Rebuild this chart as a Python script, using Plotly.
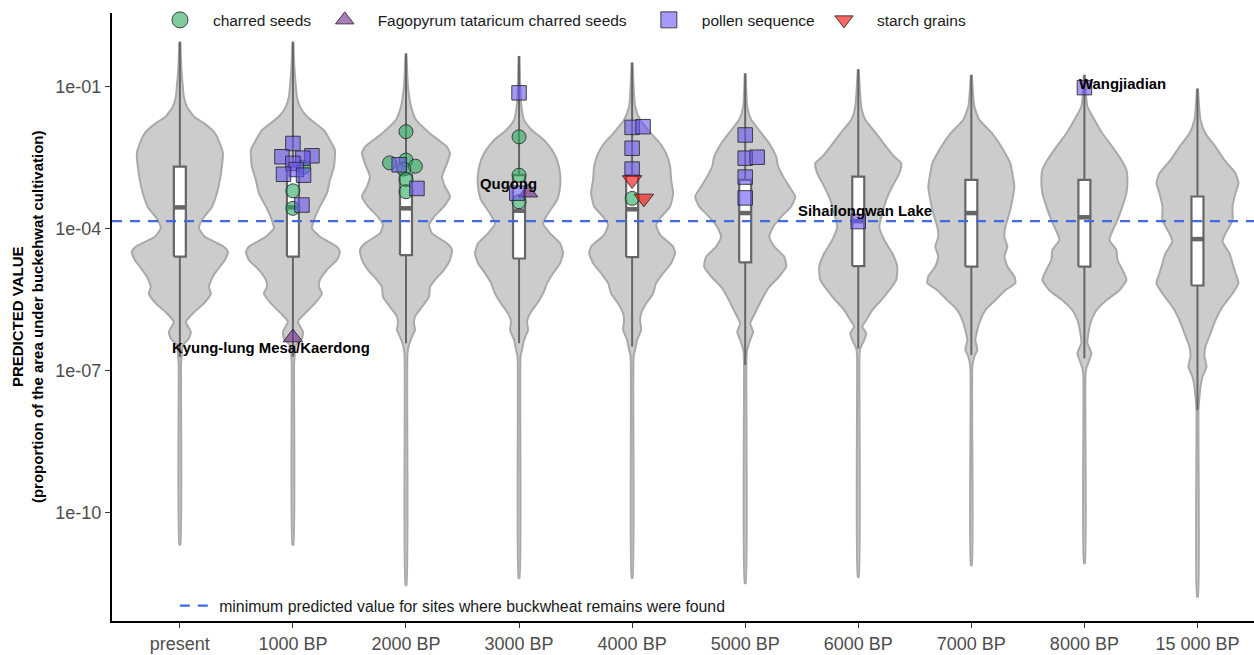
import plotly.graph_objects as go

# ---------------- data ----------------
CATEGORIES = ["present", "1000 BP", "2000 BP", "3000 BP", "4000 BP",
              "5000 BP", "6000 BP", "7000 BP", "8000 BP", "15 000 BP"]

# violin outlines: log10(predicted value) and relative half-width (density)
VIOLIN_LOG = {
    "present": [-0.05, -0.6, -1.0, -1.21, -1.42, -1.63, -1.77, -1.98, -2.20, -2.41, -2.69, -2.97, -3.25, -3.54, -3.82, -3.99, -4.17, -4.38, -4.49, -4.66, -4.80, -5.01, -5.23, -5.37, -5.58, -5.79, -5.97, -6.18, -6.32, -6.46, -6.63, -6.84, -10.68],
    "1000 BP": [-0.05, -0.6, -1.0, -1.21, -1.42, -1.63, -1.92, -2.13, -2.34, -2.69, -2.97, -3.25, -3.53, -3.82, -3.99, -4.17, -4.38, -4.49, -4.66, -4.87, -5.08, -5.23, -5.37, -5.58, -5.79, -5.96, -6.18, -6.32, -6.46, -6.63, -6.85, -10.68],
    "2000 BP": [-0.30, -1.0, -1.42, -1.70, -1.99, -2.27, -2.41, -2.62, -2.90, -3.11, -3.32, -3.53, -3.75, -3.92, -4.10, -4.31, -4.45, -4.66, -4.87, -5.08, -5.23, -5.44, -5.65, -5.86, -6.0, -6.14, -6.28, -6.46, -6.63, -11.53],
    "3000 BP": [-0.35, -1.35, -1.70, -1.92, -2.13, -2.34, -2.55, -2.83, -3.11, -3.39, -3.68, -3.89, -4.10, -4.31, -4.52, -4.73, -4.94, -5.15, -5.37, -5.58, -5.79, -5.96, -6.14, -6.35, -6.56, -6.70, -11.38],
    "4000 BP": [-0.49, -1.42, -1.70, -1.99, -2.20, -2.41, -2.69, -2.97, -3.25, -3.53, -3.75, -3.92, -4.13, -4.38, -4.52, -4.73, -4.94, -5.15, -5.37, -5.58, -5.79, -5.93, -6.14, -6.35, -6.56, -6.70, -11.38],
    "5000 BP": [-0.72, -1.42, -1.70, -1.92, -2.20, -2.48, -2.69, -2.90, -3.11, -3.32, -3.53, -3.75, -3.96, -4.17, -4.38, -4.59, -4.80, -5.01, -5.23, -5.44, -5.65, -5.86, -6.0, -6.18, -6.35, -6.56, -6.77, -11.49],
    "6000 BP": [-0.63, -1.42, -1.70, -1.99, -2.27, -2.48, -2.62, -2.83, -3.11, -3.39, -3.68, -3.96, -4.24, -4.52, -4.80, -5.08, -5.30, -5.51, -5.72, -5.93, -6.07, -6.21, -6.35, -6.53, -6.70, -11.36],
    "7000 BP": [-0.75, -1.42, -1.70, -1.99, -2.20, -2.41, -2.62, -2.83, -3.11, -3.39, -3.68, -3.96, -4.17, -4.38, -4.59, -4.80, -5.01, -5.15, -5.30, -5.51, -5.72, -5.93, -6.14, -6.35, -6.56, -6.70, -6.92, -11.11],
    "8000 BP": [-0.75, -1.42, -1.70, -1.99, -2.27, -2.55, -2.76, -2.97, -3.25, -3.53, -3.82, -4.10, -4.24, -4.45, -4.66, -4.87, -5.08, -5.30, -5.51, -5.72, -5.93, -6.21, -6.42, -6.63, -6.77, -6.95, -7.13, -11.07],
    "15 000 BP": [-1.04, -1.70, -1.99, -2.27, -2.55, -2.83, -3.04, -3.25, -3.53, -3.82, -4.10, -4.27, -4.52, -4.73, -4.94, -5.15, -5.37, -5.65, -5.93, -6.21, -6.49, -6.70, -6.92, -7.13, -7.34, -7.55, -7.83, -11.78],
}
VIOLIN_DENS = {
    "present": [0.5, 1.5, 3, 4, 7, 14, 24, 35, 40, 43, 42, 40, 37, 32, 22, 19, 25, 44, 48, 45, 40, 33, 29, 31, 24, 13, 6, 11, 9, 3, 2, 1.2, 0.5],
    "1000 BP": [0.5, 1.5, 3, 4, 7, 14, 31, 37, 42, 41, 37, 34, 27, 21, 19, 27, 44, 47, 44, 34, 27, 26, 29, 22, 12, 5, 10, 9, 3, 2, 1.2, 0.5],
    "2000 BP": [0.5, 2, 5, 10, 24, 41, 44, 41, 36, 39, 44, 38, 28, 23, 26, 41, 46, 44, 38, 29, 24, 23, 16, 9, 8, 9, 6, 3, 1.5, 0.5],
    "3000 BP": [0.5, 2, 5, 13, 25, 33, 38, 41, 41, 38, 29, 24, 31, 41, 44, 41, 34, 28, 24, 18, 11, 8, 9, 5, 3, 1.5, 0.5],
    "4000 BP": [0.5, 3, 8, 19, 28, 34, 38, 39, 41, 38, 29, 24, 28, 41, 43, 39, 31, 24, 21, 14, 9, 8, 9, 5, 3, 1.5, 0.5],
    "5000 BP": [0.5, 2, 6, 14, 24, 31, 33, 38, 44, 50, 46, 36, 28, 24, 29, 39, 41, 34, 24, 18, 13, 8, 5, 8, 5, 2, 1.2, 0.5],
    "6000 BP": [0.5, 3, 7, 18, 28, 36, 43, 41, 34, 28, 24, 21, 26, 34, 39, 38, 31, 23, 14, 8, 4, 8, 6, 2, 1.2, 0.5],
    "7000 BP": [0.5, 3, 8, 21, 28, 34, 39, 41, 43, 41, 38, 34, 33, 36, 33, 36, 43, 44, 34, 24, 14, 9, 6, 4, 6, 3, 1, 0.5],
    "8000 BP": [0.5, 3, 10, 18, 28, 37, 42, 43, 42, 38, 33, 27, 25, 32, 33, 38, 42, 35, 22, 12, 7, 4, 3, 7, 5, 2, 1, 0.5],
    "15 000 BP": [0.5, 3, 8, 18, 27, 38, 41, 38, 35, 35, 28, 25, 32, 35, 38, 41, 35, 25, 18, 13, 8, 7, 9, 5, 3, 2, 1, 0.5],
}

# box-plot statistics (log10)
BOX_LOWER = [-6.71, -6.71, -6.42, -6.42, -6.49, -6.88, -6.53, -6.67, -6.74, -7.83]
BOX_Q1 = [-4.59, -4.59, -4.56, -4.63, -4.60, -4.71, -4.79, -4.80, -4.80, -5.20]
BOX_MEDIAN = [-3.55, -3.55, -3.57, -3.62, -3.59, -3.67, -3.84, -3.67, -3.76, -4.22]
BOX_Q3 = [-2.69, -2.69, -2.85, -2.87, -2.87, -2.97, -2.90, -2.97, -2.97, -3.32]
BOX_UPPER = [-0.05, -0.05, -0.30, -0.35, -0.49, -0.72, -0.63, -0.75, -0.75, -1.04]

THRESHOLD_LOG = -3.84

# archaeological evidence: category index, horizontal jitter, log10 value
CHARRED_CAT = [1, 1, 1, 2, 2, 2, 2, 2, 2, 2, 3, 3, 3, 4]
CHARRED_JIT = [0.094, 0.0, 0.0, 0.0, -0.145, 0.0, 0.083, -0.02, 0.0, 0.0, 0.0, 0.0, 0.0, 0.0]
CHARRED_LOG = [-2.70, -3.20, -3.57, -1.95, -2.61, -2.55, -2.68, -2.74, -2.96, -3.22, -2.06, -2.87, -3.43, -3.36]

FAGO_CAT = [1, 3]
FAGO_JIT = [0.0, 0.08]
FAGO_LOG = [-6.30, -3.24]

POLLEN_CAT = [1, 1, 1, 1, 1, 1, 1, 1, 1, 2, 2, 3, 3, 4, 4, 4, 4, 5, 5, 5, 5, 5, 6, 8]
POLLEN_JIT = [0.0, -0.097, 0.168, 0.088, 0.0, 0.03, -0.083, 0.094, 0.08, -0.06, 0.097, 0.0, -0.02,
              0.0, 0.097, 0.0, 0.0, 0.0, 0.0, 0.106, 0.0, 0.0, 0.0, 0.0]
POLLEN_LOG = [-2.20, -2.48, -2.46, -2.51, -2.62, -2.75, -2.85, -2.87, -3.50, -2.65, -3.15, -1.13, -3.25,
              -1.86, -1.845, -2.30, -2.74, -2.02, -2.51, -2.49, -2.91, -3.35, -3.85, -1.02]

STARCH_CAT = [4, 4]
STARCH_JIT = [0.0, 0.104]
STARCH_LOG = [-2.97, -3.36]

SITE_LABELS = ["Kyung-lung Mesa/Kaerdong", "Qugong", "Sihailongwan Lake", "Wangjiadian"]
SITE_X = [0.805, 2.903, 6.062, 8.336]
SITE_LOG = [-6.52, -3.056, -3.626, -0.943]

Y_TICK_VALUES = [1e-10, 1e-7, 1e-4, 1e-1]
Y_TICK_TEXT = ["1e-10", "1e-07", "1e-04", "1e-01"]

# ---------------- figure ----------------
FONT = "Liberation Sans, Arial, sans-serif"
DENS_TO_X = 1 / 113.0
BOX_HALF = 0.053
BOX_GREY = "#666666"
NB = "\u00a0"

fig = go.Figure()

# violins
for i, cat in enumerate(CATEGORIES):
    logs = VIOLIN_LOG[cat]
    dens = VIOLIN_DENS[cat]
    xs = [i + d * DENS_TO_X for d in dens] + [i - d * DENS_TO_X for d in reversed(dens)]
    ys = [10 ** v for v in logs] + [10 ** v for v in reversed(logs)]
    fig.add_trace(go.Scatter(
        x=xs, y=ys, mode="lines", fill="toself", fillcolor="#cccccc",
        line=dict(color="#a9a9a9", width=2, shape="spline", smoothing=0.5),
        hoverinfo="skip", showlegend=False))

# whiskers
wx, wy = [], []
for i in range(len(CATEGORIES)):
    wx += [i, i, None, i, i, None]
    wy += [10 ** BOX_LOWER[i], 10 ** BOX_Q1[i], None, 10 ** BOX_Q3[i], 10 ** BOX_UPPER[i], None]
fig.add_trace(go.Scatter(x=wx, y=wy, mode="lines", line=dict(color=BOX_GREY, width=2),
                         hoverinfo="skip", showlegend=False))

# boxes
bx, by = [], []
for i in range(len(CATEGORIES)):
    q1, q3 = 10 ** BOX_Q1[i], 10 ** BOX_Q3[i]
    bx += [i - BOX_HALF, i + BOX_HALF, i + BOX_HALF, i - BOX_HALF, i - BOX_HALF, None]
    by += [q1, q1, q3, q3, q1, None]
fig.add_trace(go.Scatter(x=bx, y=by, mode="lines", fill="toself", fillcolor="white",
                         line=dict(color=BOX_GREY, width=2.2),
                         hoverinfo="skip", showlegend=False))

# medians
mx, my = [], []
for i, m in enumerate(BOX_MEDIAN):
    mx += [i - BOX_HALF, i + BOX_HALF, None]
    my += [10 ** m, 10 ** m, None]
fig.add_trace(go.Scatter(x=mx, y=my, mode="lines", line=dict(color=BOX_GREY, width=4.5),
                         hoverinfo="skip", showlegend=False))

# threshold
fig.add_trace(go.Scatter(
    x=[-0.6, 9.5], y=[10 ** THRESHOLD_LOG] * 2, mode="lines",
    line=dict(color="#4169E1", width=2.2, dash="10px,8px"),
    name=NB + "minimum predicted value for sites where buckwheat remains were found",
    legend="legend2", hoverinfo="skip"))

MARKER_EDGE = dict(color="rgba(40,40,40,0.85)", width=1)


def add_points(cats, jit, logs, name, symbol, size, color):
    # the marks themselves
    fig.add_trace(go.Scatter(
        x=[c + j for c, j in zip(cats, jit)], y=[10 ** v for v in logs],
        mode="markers", name=name, showlegend=False, legendgroup=name,
        marker=dict(symbol=symbol, size=size, color=color, line=MARKER_EDGE)))
    # legend key (drawn larger, as in the reference)
    fig.add_trace(go.Scatter(
        x=[None], y=[None], mode="markers", name=name, legendgroup=name,
        marker=dict(symbol=symbol, size=16, color=color, line=MARKER_EDGE)))


add_points(CHARRED_CAT, CHARRED_JIT, CHARRED_LOG, NB * 3 + "charred seeds" + NB * 2,
           "circle", 14, "rgba(40,170,95,0.6)")
add_points(FAGO_CAT, FAGO_JIT, FAGO_LOG, NB * 3 + "Fagopyrum tataricum charred seeds" + NB * 4,
           "triangle-up", 17, "rgba(110,40,140,0.6)")
add_points(POLLEN_CAT, POLLEN_JIT, POLLEN_LOG, NB * 3 + "pollen sequence" + NB,
           "square", 14.5, "rgba(105,85,240,0.6)")
add_points(STARCH_CAT, STARCH_JIT, STARCH_LOG, NB * 3 + "starch grains",
           "triangle-down", 17, "rgba(245,20,20,0.65)")

for lab, x, ly in zip(SITE_LABELS, SITE_X, SITE_LOG):
    fig.add_annotation(x=x, y=ly, text="<b>" + lab + "</b>", showarrow=False,
                       font=dict(size=14.9, color="black", family=FONT),
                       xanchor="center", yanchor="middle")

fig.add_annotation(
    xref="paper", yref="paper", x=-0.0744, y=0.5, textangle=-90,
    text="<b>PREDICTED VALUE</b><br><b>(proportion of the area under buckehwat cultivation)</b>",
    showarrow=False, font=dict(size=15, color="black", family=FONT),
    xanchor="center", yanchor="middle")

fig.update_layout(
    width=1254, height=655,
    margin=dict(l=112, r=0, t=13, b=34),
    paper_bgcolor="white", plot_bgcolor="white",
    font=dict(family=FONT, color="#4d4d4d", size=15.5),
    showlegend=True,
    legend=dict(orientation="h", x=0.042, y=0.988, xanchor="left", yanchor="middle",
                bgcolor="rgba(0,0,0,0)", font=dict(size=15.5, color="#1a1a1a"),
                traceorder="normal"),
    legend2=dict(orientation="h", x=0.055, y=0.025, xanchor="left", yanchor="middle",
                 bgcolor="rgba(0,0,0,0)", font=dict(size=15.8, color="#1a1a1a")),
    xaxis=dict(range=[-0.6, 9.5], tickvals=list(range(len(CATEGORIES))), ticktext=CATEGORIES,
               showgrid=False, zeroline=False, showline=True, linecolor="black", linewidth=2,
               ticks="outside", ticklen=5, tickwidth=1.2, tickcolor="#333333",
               tickfont=dict(size=18, color="#4d4d4d")),
    yaxis=dict(type="log", range=[-12.289, 0.557], tickvals=Y_TICK_VALUES, ticktext=Y_TICK_TEXT,
               showgrid=False, zeroline=False, showline=True, linecolor="black", linewidth=2,
               ticks="outside", ticklen=5, tickwidth=1.2, tickcolor="#333333",
               tickfont=dict(size=18, color="#4d4d4d")),
)

fig.write_html("out.html", config={"displayModeBar": False},
               post_script="document.body.style.margin='0px';")
